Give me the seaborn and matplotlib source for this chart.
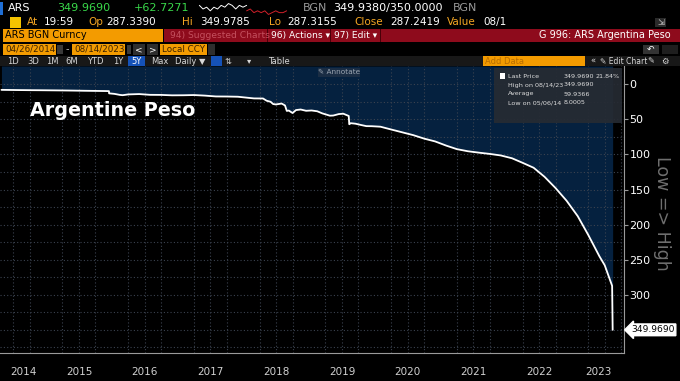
import pandas as pd
import matplotlib.pyplot as plt
import matplotlib.dates as mdates
from matplotlib.patches import Rectangle
import seaborn as sns

# USD/ARS daily close
dates = ['2014-04-28', '2014-06-01', '2014-08-01', '2014-10-01', '2014-12-01',
         '2015-02-01', '2015-04-01', '2015-06-01', '2015-08-01', '2015-10-01',
         '2015-12-01', '2015-12-16', '2015-12-17', '2016-01-15', '2016-02-15',
         '2016-03-01', '2016-04-01', '2016-06-01', '2016-08-01', '2016-10-01',
         '2016-12-01', '2017-02-01', '2017-04-01', '2017-06-01', '2017-08-01',
         '2017-10-01', '2017-12-01', '2018-01-15', '2018-03-01', '2018-04-20',
         '2018-05-10', '2018-06-01', '2018-06-15', '2018-07-01', '2018-08-01',
         '2018-08-20', '2018-08-30', '2018-09-10', '2018-10-01', '2018-10-20',
         '2018-11-15', '2018-12-15', '2019-01-15', '2019-02-15', '2019-03-15',
         '2019-04-10', '2019-04-26', '2019-05-15', '2019-06-15', '2019-07-10',
         '2019-08-09', '2019-08-12', '2019-08-20', '2019-09-15', '2019-10-15',
         '2019-11-15', '2019-12-15', '2020-02-01', '2020-04-01', '2020-06-01',
         '2020-08-01', '2020-10-01', '2020-12-01', '2021-02-01', '2021-04-01',
         '2021-06-01', '2021-08-01', '2021-10-01', '2021-12-01', '2022-02-01',
         '2022-04-01', '2022-06-01', '2022-08-01', '2022-10-01', '2022-12-01',
         '2023-02-01', '2023-04-01', '2023-06-01', '2023-07-01', '2023-08-11',
         '2023-08-14']
values = [8.00, 8.10, 8.30, 8.45, 8.55,
          8.70, 8.85, 9.05, 9.30, 9.50,
          9.70, 9.80, 13.0, 13.7, 15.2,
          15.6, 14.5, 14.0, 15.1, 15.2,
          15.8, 15.7, 15.4, 16.2, 17.4,
          17.5, 17.8, 19.0, 20.2, 20.3,
          23.5, 25.0, 28.2, 28.8, 27.5,
          30.2, 38.0, 37.5, 41.0, 36.8,
          36.0, 37.8, 37.4, 38.5, 41.5,
          43.5, 44.8, 44.6, 42.5, 42.0,
          45.2, 57.0, 55.5, 56.2, 58.0,
          59.7, 59.8, 60.5, 64.5, 68.5,
          72.5, 77.5, 81.5, 87.5, 92.5,
          95.5, 97.5, 99.3, 101.5, 105.5,
          112, 119, 132, 148, 166,
          188, 215, 245, 258, 287.3,
          349.969]

years = list(range(2014, 2024))
y_ticks = [0, 50, 100, 150, 200, 250, 300]
spark_white = [6, 4, 5, 3, 5, 4, 6, 5, 7, 6, 4, 6, 5, 6]
spark_red = [3, 4, 2, 3, 2, 3, 1, 2, 3, 2, 2, 3]

legend_rows = [('Last Price', '349.9690', '21.84%'),
               ('High on 08/14/23', '349.9690', ''),
               ('Average', '59.9366', ''),
               ('Low on 05/06/14', '8.0005', '')]

df = pd.DataFrame({'date': pd.to_datetime(dates), 'value': values})

sns.set_style('dark')
plt.rcParams['font.family'] = ['DejaVu Sans']

W, H = 680, 381
fig = plt.figure(figsize=(W / 100, H / 100), dpi=100, facecolor='black')


def fx(x):
    return x / W


def fy(y):
    return 1 - y / H


def box(x0, y0, x1, y1, color, z=1, alpha=1.0):
    fig.add_artist(Rectangle((fx(x0), fy(y1)), (x1 - x0) / W, (y1 - y0) / H,
                             transform=fig.transFigure, facecolor=color,
                             edgecolor='none', zorder=z, alpha=alpha))


def txt(x, y, s, color='white', size=8, ha='left', **kw):
    fig.text(fx(x), fy(y), s, color=color, fontsize=size, ha=ha, va='center', **kw)


ORANGE = '#f39b00'
AMBER = '#f5a623'
RED = '#8e0b1c'
NAVY = '#05213f'

# ---- header row 1
box(0, 2, 3, 15, '#1f6fd6')
txt(8, 8, 'ARS')
txt(57, 8, '349.9690', color='#39d84a')
txt(134, 8, '+62.7271', color='#39d84a')
txt(303, 8, 'BGN', color='#9a9a9a')
txt(333, 8, '349.9380/350.0000')
txt(453, 8, 'BGN', color='#9a9a9a')

spark = fig.add_axes([fx(195), fy(15), 96 / W, 12 / H])
n = len(spark_white)
spark.plot(range(n), spark_white, color='white', lw=0.7)
spark.plot(range(n - 1, n - 1 + len(spark_red)), spark_red, color='#d0202a', lw=0.7)
spark.set_axis_off()

# ---- header row 2
box(10, 17, 21, 28, '#f5c400', z=2)
for x, s, c in [(27, 'At', AMBER), (44, '19:59', 'white'), (88, 'Op', AMBER),
                (106, '287.3390', 'white'), (182, 'Hi', AMBER), (200, '349.9785', 'white'),
                (269, 'Lo', AMBER), (287, '287.3155', 'white'), (354, 'Close', AMBER),
                (390, '287.2419', 'white'), (447, 'Value', AMBER), (483, '08/1', 'white')]:
    txt(x, 22, s, color=c, size=7.5)
box(655, 18, 666, 27, '#2a2a2a', z=2)
txt(660.5, 22.5, '\u21f2', color='#cfcfcf', size=6, ha='center', zorder=3)

# ---- header row 3
box(3, 29, 163, 42, ORANGE)
txt(5, 35.5, 'ARS BGN Curncy', color='black', size=7)
box(164, 29, 680, 42, RED)
box(267, 29, 268, 42, '#4a0008', z=2)
box(330, 29, 331, 42, '#4a0008', z=2)
box(380, 29, 381, 42, '#4a0008', z=2)
txt(170, 35.5, '94) Suggested Charts', color='#c4505e', size=6.6)
txt(271, 35.5, '96) Actions \u25be', size=6.6)
txt(334, 35.5, '97) Edit \u25be', size=6.6)
txt(671, 35.5, 'G 996: ARS Argentina Peso', ha='right', size=7)

# ---- header row 4
box(3, 44, 56, 55, ORANGE)
txt(5, 49.5, '04/26/2014', color='#3a2000', size=6.3)
box(57, 45, 63, 54, '#3a3a3a')
txt(66, 49.5, '-', color='#bbbbbb', size=7)
box(72, 44, 125, 55, ORANGE)
txt(74, 49.5, '08/14/2023', color='#3a2000', size=6.3)
box(127, 45, 131, 54, '#3a3a3a')
box(133, 44, 145, 55, '#2e2e2e')
txt(139, 49.5, '<', ha='center', size=6.5)
box(147, 44, 158, 55, '#2e2e2e')
txt(152.5, 49.5, '>', ha='center', size=6.5)
box(160, 44, 207, 55, ORANGE)
txt(162, 49.5, 'Local CCY', color='#3a2000', size=6.3)
box(208, 44, 215, 55, '#2e2e2e')
box(643, 45, 659, 54, '#333333')
txt(651, 49.5, '\u21b6', ha='center', size=6.5)
box(662, 45, 678, 54, '#1e1e1e')

# ---- header row 5 (toolbar)
box(0, 56, 680, 66, '#181818')
for x, lab in [(13, '1D'), (33, '3D'), (52, '1M'), (72, '6M'), (95, 'YTD'),
               (118, '1Y'), (160, 'Max'), (190, 'Daily \u25bc'), (228, '\u21c5'),
               (249, '\u25be'), (279, 'Table')]:
    txt(x, 61, lab, color='#d8d8d8', size=6, ha='center')
box(128, 56, 145, 66, '#1552b8', z=2)
txt(136.5, 61, '5Y', size=6, ha='center', zorder=3)
box(211, 56, 222, 66, '#1552b8', z=2)
box(483, 56, 585, 66, ORANGE)
txt(485, 61, 'Add Data', color='#b86d00', size=6)
txt(593, 61, '\u00ab', color='#d8d8d8', size=6, ha='center')
txt(600, 61, '\u270e Edit Chart', color='#d8d8d8', size=5.5)
txt(651, 61, '\u270e', color='#d8d8d8', size=6, ha='center')
txt(665, 61, '\u2699', color='#d8d8d8', size=6, ha='center')

# ---- main chart
ax = fig.add_axes([0, fy(353), 624 / W, (353 - 66) / H])
ax.set_facecolor('black')
y_top, y_bot = -26, 383
x_left, x_right = pd.Timestamp('2014-04-20'), pd.Timestamp('2023-10-16')

ax.fill_between(df['date'], df['value'], y_top, color=NAVY, lw=0, zorder=0)
sns.lineplot(data=df, x='date', y='value', color='white', lw=1.3, ax=ax, zorder=3)

ax.set_xlim(x_left, x_right)
ax.set_ylim(y_bot, y_top)
ax.set_xlabel('')
ax.set_ylabel('')

ax.yaxis.tick_right()
ax.set_yticks(y_ticks)
ax.set_yticks(range(25, 376, 25), minor=True)
ax.tick_params(axis='y', which='major', colors='#9a9a9a', labelcolor='white',
               labelsize=8, length=3, pad=1)
ax.tick_params(axis='y', which='minor', length=0)

ax.xaxis.set_major_locator(mdates.YearLocator())
ax.xaxis.set_minor_locator(mdates.MonthLocator(bymonth=[1, 4, 7, 10]))
ax.tick_params(axis='x', which='major', length=22, color='#4a4a4a', labelbottom=False)
ax.tick_params(axis='x', which='minor', length=2, color='#8a8a8a')

ax.grid(True, which='minor', axis='both', color='#3b4350', ls=(0, (1, 2)), lw=0.8)
ax.grid(True, which='major', axis='y', color='#3b4350', ls=(0, (1, 2)), lw=0.8)
ax.grid(False, which='major', axis='x')

for side in ['left', 'top']:
    ax.spines[side].set_visible(False)
for side in ['right', 'bottom']:
    ax.spines[side].set_color('#9a9a9a')
    ax.spines[side].set_linewidth(0.8)

# year labels centred in each visible year
for yr in years:
    a = max(pd.Timestamp(f'{yr}-01-01'), x_left)
    b = min(pd.Timestamp(f'{yr + 1}-01-01'), x_right)
    mid = a + (b - a) / 2
    ax.annotate(str(yr), xy=(mid, 0), xycoords=('data', 'axes fraction'),
                xytext=(0, -13.5), textcoords='offset points', color='#d0d0d0',
                fontsize=7.5, ha='center', va='center', annotation_clip=False)

ax.text(0.048, 0.845, 'Argentine Peso', transform=ax.transAxes, color='white',
        fontsize=13.8, fontweight='bold', va='center', ha='left', zorder=5)

# annotate button
box(318, 68, 360, 77, '#1a2d44', z=4)
txt(339, 72.5, '\u270e Annotate', color='#9aa4b0', size=5.3, ha='center', zorder=5)

# legend box
box(494, 68, 622, 123, '#262b33', z=4, alpha=0.92)
box(500, 73, 505, 79, 'white', z=5)
for i, (lab, val, pct) in enumerate(legend_rows):
    yy = 76 + i * 9
    txt(508, yy, lab, color='#dcdcdc', size=4.6, zorder=6)
    txt(564, yy, val, color='#dcdcdc', size=4.6, zorder=6)
    if pct:
        txt(620, yy, pct, color='#dcdcdc', size=4.6, ha='right', zorder=6)

# last price tag
ax.annotate('349.9690', xy=(1.0, 349.969), xycoords=('axes fraction', 'data'),
            xytext=(5, 0), textcoords='offset points', color='black', fontsize=6.6,
            ha='left', va='center', annotation_clip=False,
            bbox=dict(boxstyle='larrow,pad=0.15', fc='white', ec='white'))

# axis caption on the right
txt(662, 213, 'Low => High', color='#6f6f6f', size=12.5, ha='center', rotation=-90)

fig.savefig('out.png', dpi=100, facecolor='black')
